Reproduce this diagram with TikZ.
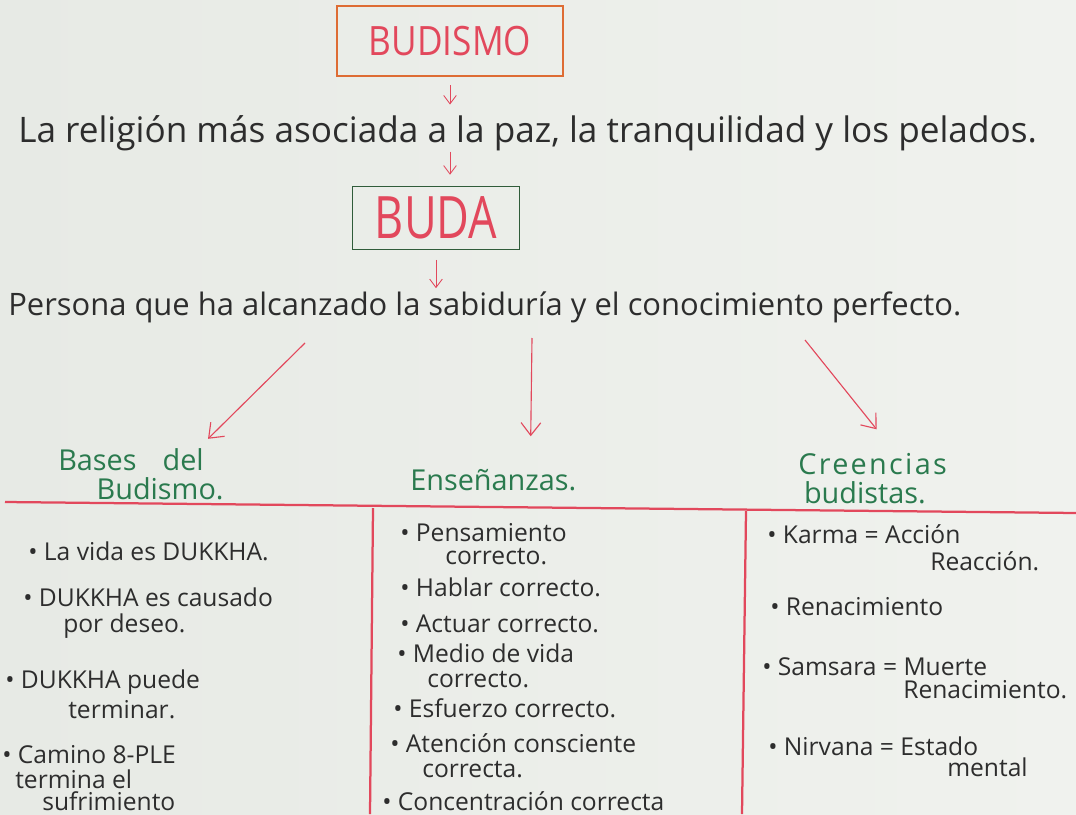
\documentclass[tikz,border=0pt]{standalone}
\usepackage{fontspec}
\usepackage{graphicx}
\setmainfont{Open Sans}
\usetikzlibrary{arrows.meta}

\definecolor{papel}{RGB}{231,234,229}
\definecolor{papelclaro}{RGB}{240,242,238}
\definecolor{rojo}{RGB}{226,72,92}
\definecolor{naranja}{RGB}{222,108,52}
\definecolor{verdecaja}{RGB}{48,92,58}
\definecolor{verde}{RGB}{42,122,78}
\definecolor{tinta}{RGB}{45,45,45}

\begin{document}
\begin{tikzpicture}[x=0.025cm,y=-0.025cm,
    flecha/.style={draw=rojo,semithick,-{Straight Barb[length=6pt,width=9pt]}},
    flechagrande/.style={draw=rojo,thick,-{Straight Barb[length=9pt,width=14pt]}},
    regla/.style={draw=rojo,line width=1.6pt},
    frase/.style={anchor=base west,inner sep=0pt,text=tinta,font=\fontsize{25}{29}\selectfont},
    linea/.style={anchor=base west,inner sep=0pt,text=tinta,font=\fontsize{17.5}{21}\selectfont},
    encabezado/.style={anchor=base west,inner sep=0pt,align=left,text=verde,font=\fontsize{20.5}{20}\selectfont}]
    % hoja
    \useasboundingbox (0,0) rectangle (1076,814);
    \shade [left color=papel,right color=papelclaro] (0,0) rectangle (1076,814);

    % titulos
    \node [draw=naranja,line width=1.4pt,minimum width=5.65cm,minimum height=1.75cm,
        text=rojo,font=\fontsize{25}{30}\selectfont] (budismo) at (450,41) {\scalebox{1}[1.15]{BUDISMO}};
    \node [frase] (frase1) at (18,143) {La religión más asociada a la paz, la tranquilidad y los pelados.};
    \node [draw=verdecaja,thick,minimum width=4.175cm,minimum height=1.575cm,
        text=rojo,font=\fontsize{32}{36}\selectfont] (buda) at (436,218) {\scalebox{1}[1.3]{BUDA}};
    \node [frase,font=\fontsize{22}{26}\selectfont] (frase2) at (8,315) {Persona que ha alcanzado la sabiduría y el conocimiento perfecto.};

    \draw [flecha,shorten <=6pt,shorten >=8pt] (budismo.south) -- (budismo.south |- frase1.north);
    \draw [flecha,shorten >=8pt] (budismo.south |- frase1.south) -- (budismo.south |- buda.north);
    \draw [flecha,shorten <=7pt,shorten >=2pt] (buda.south) -- (buda.south |- frase2.north);

    % encabezados (el ancla base es la de la ultima linea)
    \node [encabezado] (bases) at (58,499) {Bases\hspace{0.9em}del\\\hspace{1.33em}Budismo.};
    \node [encabezado] (ensenanzas) at (410,490) {Enseñanzas.};
    \node [encabezado] (creencias) at (798,503) {{\addfontfeature{LetterSpace=8}Creencias}\\\hspace{0.2em}budistas.};

    \coordinate (s1) at (305,343);
    \coordinate (s2) at (532,338);
    \coordinate (s3) at (805,340);
    \draw [flechagrande,shorten >=10pt] (s1) -- ([xshift=3.5cm]bases.north west);
    \draw [flechagrande,shorten >=23pt] (s2) -- ([xshift=0.925cm]ensenanzas.north);
    \draw [flechagrande,shorten >=22pt] (s3) -- ([xshift=2.45cm]creencias.north west);

    % tabla
    \draw [regla] (5,502) -- (1076,513);
    \draw [regla] (373,508) -- (370,814);
    \draw [regla] (746,511) -- (742,814);

    % columnas
    \foreach \x/\y/\t [count=\i] in {28/560/{• La vida es DUKKHA.},
        23/606/{• DUKKHA es causado}, 63/632/{por deseo.},
        5/688/{• DUKKHA puede}, 68/718/{terminar.},
        2/763/{• Camino 8-PLE}, 15/788/{termina el}, 42/810/{sufrimiento}}
        \node [linea] (b-\i) at (\x,\y) {\t};

    \foreach \x/\y/\t [count=\i] in {400/541/{• Pensamiento}, 445/564/{correcto.},
        400/596/{• Hablar correcto.}, 400/632/{• Actuar correcto.},
        397/662/{• Medio de vida}, 427/687/{correcto.},
        393/717/{• Esfuerzo correcto.},
        390/752/{• Atención consciente}, 422/777/{correcta.},
        382/810/{• Concentración correcta}}
        \node [linea] (e-\i) at (\x,\y) {\t};

    \foreach \x/\y/\t [count=\i] in {767/543/{• Karma = Acción}, 930/570/{Reacción.},
        770/615/{• Renacimiento},
        762/675/{• Samsara = Muerte}, 903/698/{Renacimiento.},
        768/755/{• Nirvana = Estado}, 947/776/{mental}}
        \node [linea] (c-\i) at (\x,\y) {\t};
\end{tikzpicture}
\end{document}
